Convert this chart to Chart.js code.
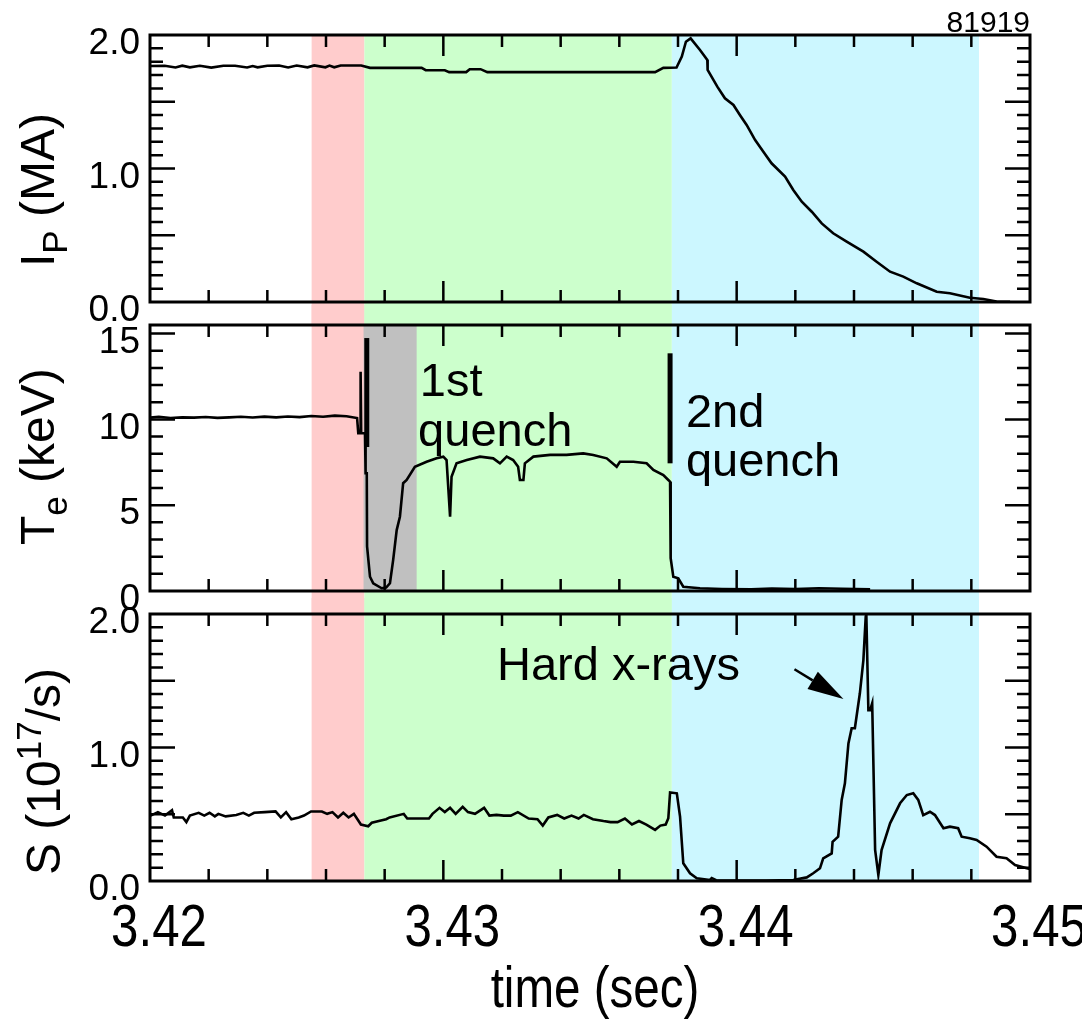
<!DOCTYPE html>
<html>
<head>
<meta charset="utf-8">
<title>81919</title>
<script src="https://cdn.jsdelivr.net/npm/chart.js@4.4.0/dist/chart.umd.min.js"></script>
<style>
  body { margin: 0; background: #fff; }
  #wrap { position: relative; width: 1082px; height: 1019px; overflow: hidden; }
  .pane { position: absolute; left: 0; width: 1082px; }
</style>
</head>
<body>
<div id="wrap">
  <div class="pane" style="top:0;height:330px"><canvas id="cIp"></canvas></div>
  <div class="pane" style="top:305px;height:315px"><canvas id="cTe"></canvas></div>
  <div class="pane" style="top:598px;height:421px"><canvas id="cS"></canvas></div>
</div>
<script>
// plasma current (MA)
const ipTime = [3.42000, 3.42050, 3.42087, 3.42110, 3.42136, 3.42170, 3.42209, 3.42250, 3.42290, 3.42331,
  3.42350, 3.42367, 3.42400, 3.42440, 3.42471, 3.42500, 3.42537, 3.42560, 3.42598, 3.42612,
  3.42628, 3.42650, 3.42720, 3.42750, 3.42926, 3.42940, 3.43005, 3.43020, 3.43078, 3.43090,
  3.43127, 3.43150, 3.43722, 3.43750, 3.43795, 3.43813, 3.43827, 3.43843, 3.43875, 3.43900,
  3.43901, 3.43934, 3.43960, 3.43989, 3.44011, 3.44034, 3.44063, 3.44091, 3.44119, 3.44165,
  3.44193, 3.44222, 3.44256, 3.44290, 3.44329, 3.44375, 3.44432, 3.44477, 3.44523, 3.44568,
  3.44614, 3.44682, 3.44727, 3.44795, 3.44841, 3.44886, 3.44932];
const ipValue = [1.768, 1.770, 1.757, 1.770, 1.758, 1.769, 1.756, 1.770, 1.770, 1.757,
  1.768, 1.758, 1.770, 1.771, 1.757, 1.771, 1.758, 1.772, 1.758, 1.771,
  1.758, 1.772, 1.772, 1.754, 1.754, 1.736, 1.736, 1.722, 1.722, 1.744,
  1.744, 1.722, 1.722, 1.754, 1.756, 1.838, 1.950, 1.975, 1.888, 1.813,
  1.738, 1.613, 1.526, 1.476, 1.401, 1.326, 1.213, 1.126, 1.039, 0.939,
  0.839, 0.751, 0.676, 0.589, 0.515, 0.452, 0.377, 0.302, 0.227, 0.190,
  0.140, 0.077, 0.065, 0.032, 0.022, 0.004, 0.002];

// electron temperature (keV)
const teTime = [3.42000, 3.42030, 3.42070, 3.42110, 3.42150, 3.42190, 3.42230, 3.42270, 3.42310, 3.42350,
  3.42390, 3.42430, 3.42470, 3.42510, 3.42550, 3.42590, 3.42630, 3.42670, 3.42706, 3.42710,
  3.42716, 3.42718, 3.42720, 3.42733, 3.42735, 3.42739, 3.42740, 3.42750, 3.42761, 3.42790,
  3.42805, 3.42818, 3.42829, 3.42841, 3.42852, 3.42863, 3.42875, 3.42903, 3.42943, 3.42977,
  3.43000, 3.43011, 3.43023, 3.43028, 3.43045, 3.43080, 3.43125, 3.43170, 3.43193, 3.43216,
  3.43238, 3.43255, 3.43261, 3.43273, 3.43278, 3.43307, 3.43364, 3.43420, 3.43477, 3.43511,
  3.43557, 3.43591, 3.43602, 3.43648, 3.43693, 3.43716, 3.43750, 3.43767, 3.43773, 3.43775,
  3.43784, 3.43801, 3.43818, 3.43875, 3.43950, 3.44050, 3.44120, 3.44200, 3.44280, 3.44360,
  3.44455];
const teValue = [10.10, 10.15, 10.08, 10.12, 10.10, 10.14, 10.09, 10.12, 10.15, 10.11,
  10.16, 10.12, 10.17, 10.13, 10.20, 10.15, 10.22, 10.18, 10.08, 9.19,
  9.19, 12.78, 9.19, 9.19, 6.86, 6.86, 2.60, 0.83, 0.45, 0.16,
  0.20, 0.45, 1.81, 3.55, 4.33, 6.28, 6.47, 7.24, 7.53, 7.73,
  7.83, 7.63, 4.33, 6.66, 7.44, 7.63, 7.83, 7.73, 7.44, 7.83,
  7.63, 7.24, 6.47, 6.47, 7.44, 7.83, 7.93, 7.93, 8.02, 7.93,
  7.73, 7.24, 7.53, 7.53, 7.44, 7.05, 6.76, 6.47, 6.37, 1.91,
  0.83, 0.74, 0.25, 0.16, 0.12, 0.10, 0.14, 0.11, 0.16, 0.13,
  0.10];

// S (1e17 /s)
const sTime = [3.42002, 3.42027, 3.42051, 3.42075, 3.42081, 3.42112, 3.42124, 3.42136, 3.42166, 3.42185,
  3.42203, 3.42221, 3.42233, 3.42258, 3.42294, 3.42318, 3.42337, 3.42355, 3.42391, 3.42428,
  3.42446, 3.42464, 3.42482, 3.42507, 3.42525, 3.42549, 3.42586, 3.42604, 3.42622, 3.42641,
  3.42659, 3.42677, 3.42695, 3.42719, 3.42744, 3.42756, 3.42780, 3.42805, 3.42817, 3.42865,
  3.42877, 3.42914, 3.42951, 3.42963, 3.42987, 3.43005, 3.43023, 3.43042, 3.43066, 3.43084,
  3.43108, 3.43139, 3.43157, 3.43181, 3.43206, 3.43230, 3.43254, 3.43291, 3.43321, 3.43339,
  3.43358, 3.43388, 3.43412, 3.43437, 3.43461, 3.43479, 3.43510, 3.43546, 3.43570, 3.43594,
  3.43619, 3.43643, 3.43667, 3.43692, 3.43722, 3.43740, 3.43758, 3.43767, 3.43773, 3.43796,
  3.43807, 3.43818, 3.43841, 3.43864, 3.43909, 3.43915, 3.43930, 3.44100, 3.44193, 3.44239,
  3.44261, 3.44284, 3.44295, 3.44324, 3.44327, 3.44346, 3.44358, 3.44369, 3.44381, 3.44392,
  3.44403, 3.44420, 3.44432, 3.44440, 3.44442, 3.44449, 3.44455, 3.44462, 3.44472, 3.44483,
  3.44494, 3.44523, 3.44557, 3.44580, 3.44602, 3.44619, 3.44636, 3.44659, 3.44676, 3.44705,
  3.44727, 3.44755, 3.44767, 3.44795, 3.44818, 3.44852, 3.44886, 3.44920, 3.44949, 3.44989,
  3.45000];
const sValue = [0.490, 0.516, 0.490, 0.530, 0.476, 0.476, 0.441, 0.490, 0.511, 0.490,
  0.511, 0.484, 0.503, 0.484, 0.495, 0.511, 0.490, 0.511, 0.516, 0.521,
  0.476, 0.516, 0.463, 0.476, 0.490, 0.521, 0.521, 0.503, 0.516, 0.476,
  0.511, 0.476, 0.503, 0.423, 0.410, 0.436, 0.449, 0.463, 0.476, 0.503,
  0.468, 0.468, 0.468, 0.503, 0.548, 0.516, 0.548, 0.503, 0.556, 0.516,
  0.503, 0.548, 0.490, 0.495, 0.490, 0.490, 0.516, 0.468, 0.463, 0.415,
  0.476, 0.495, 0.468, 0.490, 0.468, 0.495, 0.463, 0.449, 0.441, 0.441,
  0.468, 0.423, 0.449, 0.423, 0.383, 0.415, 0.423, 0.470, 0.664, 0.657,
  0.482, 0.133, 0.058, 0.020, 0.008, 0.022, 0.006, 0.004, 0.008, 0.027,
  0.058, 0.095, 0.170, 0.207, 0.294, 0.332, 0.607, 0.732, 1.031, 1.144,
  1.144, 1.406, 1.655, 1.980, 2.000, 1.280, 1.280, 1.331, 0.232, 0.045,
  0.232, 0.432, 0.582, 0.644, 0.657, 0.607, 0.494, 0.519, 0.494, 0.395,
  0.407, 0.395, 0.332, 0.320, 0.307, 0.257, 0.182, 0.170, 0.120, 0.095,
  0.090];

// shaded phases (s)
const phaseStart = [3.42551, 3.42731, 3.43779];
const phaseEnd = [3.42731, 3.43779, 3.44826];
const quenchStart = 3.42728, quenchEnd = 3.42909;

// axes
const xMin = 3.42, xMax = 3.45;
const xTicks = [3.42, 3.43, 3.44, 3.45];
const ipTicks = [0, 1, 2];
const teTicks = [0, 5, 10, 15];
const sTicks = [0, 1, 2];

const phaseColors = ['#ffcccc', '#ccffcc', '#ccf7ff'];
const quenchColor = '#c0c0c0';
const FONT = '"Liberation Sans", Arial, Helvetica, sans-serif';

const pts = (t, v) => t.map((x, i) => ({ x, y: v[i] }));

function bandsPlugin(o) {
  return {
    id: 'bands',
    beforeDraw(chart) {
      const { ctx, chartArea: a, scales: { x } } = chart;
      const y0 = a.top - o.above, y1 = a.bottom + o.below;
      ctx.save();
      phaseStart.forEach((t0, i) => {
        const p0 = x.getPixelForValue(t0), p1 = x.getPixelForValue(phaseEnd[i]);
        ctx.fillStyle = phaseColors[i];
        ctx.fillRect(p0, y0, p1 - p0, y1 - y0);
      });
      if (o.quench) {
        const p0 = x.getPixelForValue(quenchStart), p1 = x.getPixelForValue(quenchEnd);
        ctx.fillStyle = quenchColor;
        ctx.fillRect(p0, a.top, p1 - p0, a.bottom - a.top);
      }
      ctx.restore();
    }
  };
}

// box with inward ticks on all four sides
function framePlugin(step) {
  return {
    id: 'frame',
    afterDraw(chart) {
      const { ctx, chartArea: a, scales: { x, y } } = chart;
      ctx.save();
      ctx.strokeStyle = '#000';
      ctx.lineWidth = 2.5;
      ctx.beginPath();
      for (let i = 1; i < 15; i++) {
        const px = x.getPixelForValue(xMin + i * 0.002);
        const len = i % 5 === 0 ? 21 : 12;
        ctx.moveTo(px, a.bottom); ctx.lineTo(px, a.bottom - len);
        ctx.moveTo(px, a.top); ctx.lineTo(px, a.top + len);
      }
      for (let i = 1; i * step < y.max - 1e-9; i++) {
        const py = y.getPixelForValue(i * step);
        const len = i % 5 === 0 ? 25 : 13;
        ctx.moveTo(a.left, py); ctx.lineTo(a.left + len, py);
        ctx.moveTo(a.right, py); ctx.lineTo(a.right - len, py);
      }
      ctx.stroke();
      ctx.lineWidth = 3;
      ctx.strokeRect(a.left, a.top, a.right - a.left, a.bottom - a.top);
      ctx.restore();
    }
  };
}

function drawYTitle(ctx, spec) {
  ctx.save();
  ctx.translate(spec.x, spec.y);
  ctx.rotate(-Math.PI / 2);
  ctx.textAlign = 'left';
  ctx.textBaseline = 'alphabetic';
  let cx = 0;
  spec.parts.forEach(p => {
    ctx.font = p.size + 'px ' + FONT;
    ctx.fillText(p.text, cx, p.shift || 0);
    cx += ctx.measureText(p.text).width;
  });
  ctx.restore();
}

// narrow text for the time axis
function drawNarrow(ctx, text, px, py, size) {
  ctx.save();
  ctx.translate(px, py);
  ctx.scale(0.82, 1);
  ctx.font = size + 'px ' + FONT;
  ctx.textAlign = 'center';
  ctx.textBaseline = 'alphabetic';
  ctx.fillText(text, 0, 0);
  ctx.restore();
}

function notesPlugin(o) {
  return {
    id: 'notes',
    afterDraw(chart) {
      const { ctx, chartArea: a, scales: { x, y } } = chart;
      ctx.save();
      ctx.fillStyle = '#000';
      ctx.strokeStyle = '#000';
      (o.bars || []).forEach(b => {
        const px = x.getPixelForValue(b.t);
        ctx.lineWidth = 5;
        ctx.beginPath();
        ctx.moveTo(px, y.getPixelForValue(b.from));
        ctx.lineTo(px, y.getPixelForValue(b.to));
        ctx.stroke();
      });
      (o.labels || []).forEach(l => {
        ctx.font = l.size + 'px ' + FONT;
        ctx.textAlign = l.align || 'left';
        ctx.textBaseline = 'alphabetic';
        ctx.fillText(l.text, x.getPixelForValue(l.t), y.getPixelForValue(l.v));
      });
      (o.arrows || []).forEach(r => {
        const x0 = x.getPixelForValue(r.t0), y0 = y.getPixelForValue(r.v0);
        const x1 = x.getPixelForValue(r.t1), y1 = y.getPixelForValue(r.v1);
        const ang = Math.atan2(y1 - y0, x1 - x0);
        const hl = 36, hw = 10;
        const bx = x1 - hl * Math.cos(ang), by = y1 - hl * Math.sin(ang);
        ctx.lineWidth = 2.5;
        ctx.beginPath();
        ctx.moveTo(x0, y0); ctx.lineTo(bx, by);
        ctx.stroke();
        ctx.beginPath();
        ctx.moveTo(x1, y1);
        ctx.lineTo(bx + hw * Math.sin(ang), by - hw * Math.cos(ang));
        ctx.lineTo(bx - hw * Math.sin(ang), by + hw * Math.cos(ang));
        ctx.closePath();
        ctx.fill();
      });
      if (o.xLabels) {
        xTicks.forEach(v => drawNarrow(ctx, v.toFixed(2), x.getPixelForValue(v) + 9, a.bottom + 65, 60));
        drawNarrow(ctx, 'time (sec)', (a.left + a.right) / 2 + 5, a.bottom + 126, 58);
      }
      if (o.title) drawYTitle(ctx, o.title);
      ctx.restore();
    }
  };
}

function panel(id, cfg) {
  const xAxis = cfg.showX ? {
    type: 'linear', min: xMin, max: xMax,
    grid: { display: false, drawTicks: false },
    border: { display: false },
    ticks: { display: false },
    afterFit: s => { s.height = 138; s.paddingLeft = 0; s.paddingRight = 0; }
  } : { type: 'linear', min: xMin, max: xMax, display: false };

  return new Chart(document.getElementById(id), {
    type: 'line',
    data: {
      datasets: [{
        data: pts(cfg.t, cfg.v),
        borderColor: '#000', borderWidth: 2.6,
        pointRadius: 0, tension: 0, fill: false
      }]
    },
    options: {
      responsive: true, maintainAspectRatio: false, animation: false, events: [],
      layout: { autoPadding: false, padding: cfg.padding },
      plugins: { legend: { display: false }, tooltip: { enabled: false } },
      scales: {
        x: xAxis,
        y: {
          min: 0, max: cfg.yMax,
          grid: { display: false, drawTicks: false },
          border: { display: false },
          afterBuildTicks: s => { s.ticks = cfg.yTicks.map(value => ({ value })); },
          afterFit: s => { s.width = 150; s.paddingTop = 0; s.paddingBottom = 0; },
          ticks: {
            color: '#000', padding: 10, labelOffset: 9, autoSkip: false,
            font: { family: FONT, size: 37 },
            callback: cfg.fmt
          }
        }
      }
    },
    plugins: [bandsPlugin(cfg.bands), framePlugin(cfg.step), notesPlugin(cfg.notes)]
  });
}

panel('cIp', {
  t: ipTime, v: ipValue, yMax: 2, yTicks: ipTicks, step: 0.1,
  fmt: v => v.toFixed(1),
  padding: { left: 0, right: 52, top: 35, bottom: 28 },
  bands: { above: 0, below: 23 },
  notes: {
    labels: [{ text: '81919', t: 3.45, v: 2.022, size: 30, align: 'right' }],
    title: { x: 54, y: 267, parts: [
      { text: 'I', size: 48 }, { text: 'P', size: 35, shift: 13 }, { text: ' (MA)', size: 48 }] }
  }
});

panel('cTe', {
  t: teTime, v: teValue, yMax: 15.5, yTicks: teTicks, step: 1,
  fmt: v => String(v),
  padding: { left: 0, right: 52, top: 20, bottom: 29 },
  bands: { above: 23, below: 23, quench: true },
  notes: {
    bars: [{ t: 3.42739, from: 14.74, to: 8.39 }, { t: 3.43773, from: 13.85, to: 7.44 }],
    labels: [
      { text: '1st', t: 3.42920, v: 11.36, size: 47 },
      { text: 'quench', t: 3.42914, v: 8.45, size: 47 },
      { text: '2nd', t: 3.43827, v: 9.56, size: 47 },
      { text: 'quench', t: 3.43827, v: 6.70, size: 47 }
    ],
    title: { x: 54, y: 240, parts: [
      { text: 'T', size: 48 }, { text: 'e', size: 35, shift: 13 }, { text: ' (keV)', size: 48 }] }
  }
});

panel('cS', {
  t: sTime, v: sValue, yMax: 2, yTicks: sTicks, step: 0.1, showX: true,
  fmt: v => v.toFixed(1),
  padding: { left: 0, right: 52, top: 16, bottom: 0 },
  bands: { above: 23, below: 0 },
  notes: {
    xLabels: true,
    labels: [{ text: 'Hard x-rays', t: 3.43183, v: 1.506, size: 47 }],
    arrows: [{ t0: 3.44197, v0: 1.586, t1: 3.44364, v1: 1.363 }],
    title: { x: 60, y: 277, parts: [
      { text: 'S (10', size: 48 }, { text: '17', size: 35, shift: -19 }, { text: '/s)', size: 48 }] }
  }
});
</script>
</body>
</html>
